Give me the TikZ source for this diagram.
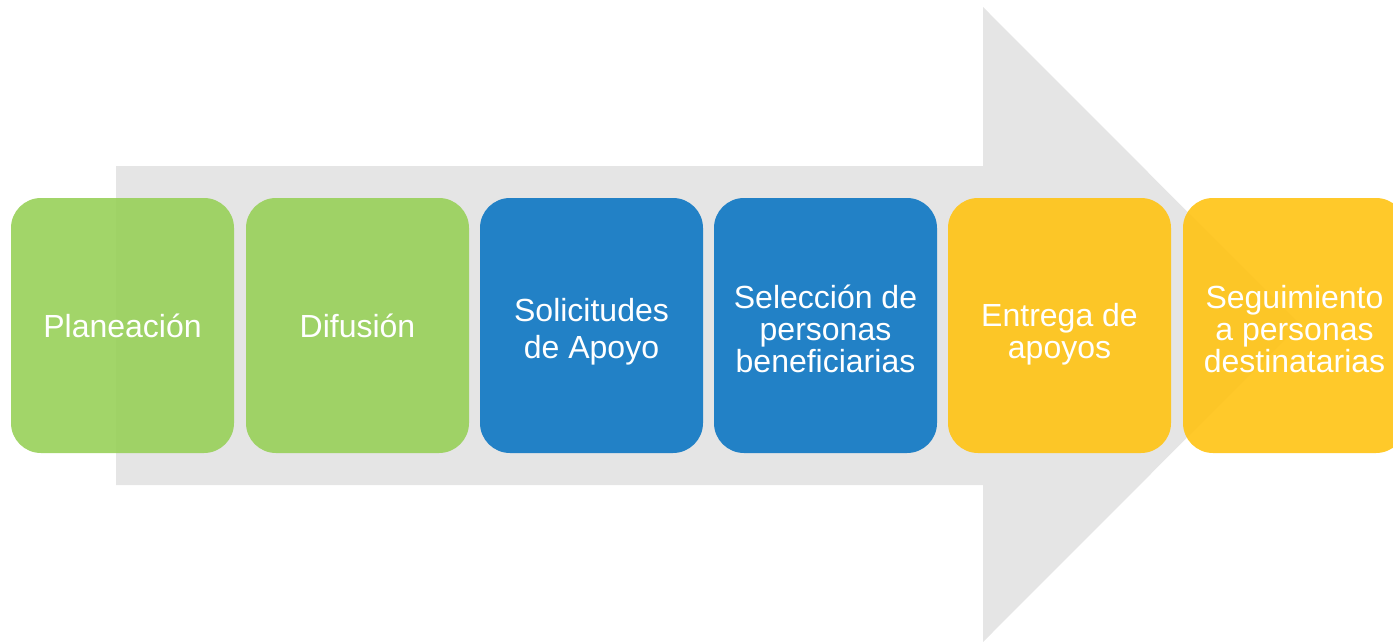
\documentclass[tikz,border=0pt]{standalone}
\usepackage{fontspec}
\setmainfont{Liberation Sans}
\definecolor{arrowgray}{RGB}{229,229,229}
\definecolor{stepgreen}{RGB}{152,208,89}
\definecolor{stepblue}{RGB}{13,119,195}
\definecolor{stepyellow}{RGB}{255,195,19}
\tikzset{
  stepbox/.style={rectangle, rounded corners=30pt, minimum width=223pt, minimum height=255pt,
    inner sep=0pt, text=white, align=center, fill opacity=0.9, text opacity=1,
    font=\fontsize{32}{32}\selectfont},
}
\begin{document}
\begin{tikzpicture}[x=1pt,y=-1pt]
\useasboundingbox (0,0) rectangle (1393,642);
\clip (0,0) rectangle (1393,642);
% big background arrow
\fill[arrowgray] (116,166) -- (983,166) -- (983,7) -- (1300,324.5) -- (983,642) -- (983,485) -- (116,485) -- cycle;
% steps
\node[stepbox, fill=stepgreen]  (s1) at (122.5,325.5) {\raisebox{-1pt}{Planeación}};
\node[stepbox, fill=stepgreen]  (s2) at (357.5,325.5) {\raisebox{-1pt}{Difusión}};
\node[stepbox, fill=stepblue, font=\fontsize{32}{37}\selectfont] (s3) at (591.5,325.5) {\\[-37pt]\rule{0pt}{0pt}\\[-2pt]Solicitudes\\de Apoyo};
\node[stepbox, fill=stepblue]   (s4) at (825.5,325.5) {\\[-32pt]\rule{0pt}{0pt}\\[-2pt]Selección de\\personas\\beneficiarias};
\node[stepbox, fill=stepyellow] (s5) at (1059.5,325.5) {\\[-32pt]\rule{0pt}{0pt}\\[8pt]Entrega de\\apoyos};
\node[stepbox, fill=stepyellow] (s6) at (1294.5,325.5) {\\[-32pt]\rule{0pt}{0pt}\\[-2pt]Seguimiento\\a personas\\destinatarias};
\end{tikzpicture}
\end{document}
